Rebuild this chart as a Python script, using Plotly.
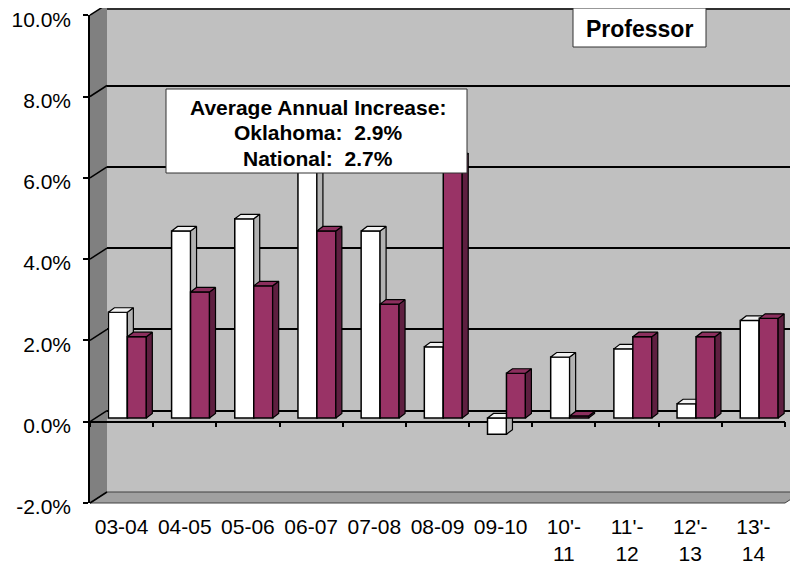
import plotly.graph_objects as go

# ---------------- data ----------------
categories = ["03-04", "04-05", "05-06", "06-07", "07-08", "08-09", "09-10",
              "10'-<br>11", "11'-<br>12", "12'-<br>13", "13'-<br>14"]
oklahoma = [2.6, 4.6, 4.9, 7.8, 4.6, 1.75, -0.4, 1.5, 1.7, 0.35, 2.4]
national = [2.0, 3.1, 3.25, 4.6, 2.8, 6.4, 1.1, 0.05, 2.0, 2.0, 2.45]
y_tick_vals = [-2, 0, 2, 4, 6, 8, 10]
y_tick_text = ["-2.0%", "0.0%", "2.0%", "4.0%", "6.0%", "8.0%", "10.0%"]
grid_vals = [0, 2, 4, 6, 8, 10]
title_text = "Professor"
note_lines = ["Average Annual Increase:", "Oklahoma:  2.9%", "National:  2.7%"]

# ---------------- geometry (page pixels) ----------------
PAGE_W, PAGE_H = 798, 566
OFF = 8                          # default body margin of the html page
W, H = PAGE_W - OFF, PAGE_H - OFF
FX0, FX1 = 90.0, 785.0          # front plane x extent
FY_TOP, FY_BOT = 15.2, 503.0    # front plane y for 10% and -2%
DX, DY = 17.0, 11.0             # depth offset of back wall
BAR_DEPTH = 0.34                # bar plane position in depth
YMIN, YMAX = -2, 10
N = len(categories)
PPU = (FY_BOT - FY_TOP) / (YMAX - YMIN)   # px per percent


def px(x):
    return (x - OFF) / W


def py(y):
    return 1 - (y - OFF) / H


def front_y(v):
    return FY_BOT - (v - YMIN) * PPU


unit_x = N / (FX1 - FX0)                     # category units per px
unit_y = 1.0 / PPU                           # % per px
side_dx = 6.0 * unit_x
top_dy = 4.5 * unit_y
bar_w = 0.30

FONT = "Liberation Sans, Arial, sans-serif"
PURPLE = "#993366"
PURPLE_SIDE = "#5e1f40"
PURPLE_TOP = "#8c2f5e"
WHITE_SIDE = "#b2b2b2"
WHITE_TOP = "#f2f2f2"


def faces(values, left):
    tx, ty, sx, sy = [], [], [], []
    for i, v in enumerate(values):
        x0 = i + left
        x1 = x0 + bar_w
        hi, lo = max(v, 0), min(v, 0)
        tx += [x0, x0 + side_dx, x1 + side_dx, x1, x0, None]
        ty += [hi, hi + top_dy, hi + top_dy, hi, hi, None]
        sx += [x1, x1 + side_dx, x1 + side_dx, x1, x1, None]
        sy += [lo, lo + top_dy, hi + top_dy, hi, lo, None]
    return tx, ty, sx, sy


fig = go.Figure()
xs = list(range(N))

# empty helper traces so every axis pair is laid out
for xa, ya in [("x", "y"), ("x2", "y2"), ("x5", "y2")]:
    fig.add_trace(go.Scatter(x=[], y=[], xaxis=xa, yaxis=ya, mode="markers",
                             hoverinfo="skip", showlegend=False))

# Oklahoma (white) in bar plane x3/y3
tx, ty, sx, sy = faces(oklahoma, -bar_w)
fig.add_trace(go.Bar(x=xs, y=oklahoma, width=bar_w, offset=-bar_w,
                     marker=dict(color="white", line=dict(color="black", width=1.5)),
                     xaxis="x3", yaxis="y3", hoverinfo="skip", name="Oklahoma"))
fig.add_trace(go.Scatter(x=sx, y=sy, fill="toself", fillcolor=WHITE_SIDE, mode="lines",
                         line=dict(color="black", width=1.2), xaxis="x3", yaxis="y3",
                         hoverinfo="skip"))
fig.add_trace(go.Scatter(x=tx, y=ty, fill="toself", fillcolor=WHITE_TOP, mode="lines",
                         line=dict(color="black", width=1.2), xaxis="x3", yaxis="y3",
                         hoverinfo="skip"))

# National (purple) in overlay x4/y4
tx, ty, sx, sy = faces(national, 0.0)
fig.add_trace(go.Bar(x=xs, y=national, width=bar_w, offset=0.0,
                     marker=dict(color=PURPLE, line=dict(color="black", width=1.5)),
                     xaxis="x4", yaxis="y4", hoverinfo="skip", name="National"))
fig.add_trace(go.Scatter(x=sx, y=sy, fill="toself", fillcolor=PURPLE_SIDE, mode="lines",
                         line=dict(color="black", width=1.2), xaxis="x4", yaxis="y4",
                         hoverinfo="skip"))
fig.add_trace(go.Scatter(x=tx, y=ty, fill="toself", fillcolor=PURPLE_TOP, mode="lines",
                         line=dict(color="black", width=1.2), xaxis="x4", yaxis="y4",
                         hoverinfo="skip"))

hidden = dict(visible=False, automargin=False)
bx0, bx1 = FX0 + BAR_DEPTH * DX, FX1 + BAR_DEPTH * DX
by_top, by_bot = FY_TOP - BAR_DEPTH * DY, FY_BOT - BAR_DEPTH * DY

# back wall: page top is the clip limit
back_bot = FY_BOT - DY
back_top = max(FY_TOP - DY, OFF)
back_ymax = YMIN + (back_bot - back_top) / PPU

fig.update_layout(
    width=W, height=H,
    margin=dict(l=0, r=0, t=0, b=0, pad=0, autoexpand=False),
    paper_bgcolor="white", plot_bgcolor="rgba(0,0,0,0)",
    showlegend=False, barmode="overlay",
    font=dict(family=FONT, size=21, color="black"),
    # back wall
    xaxis=dict(domain=[px(FX0 + DX), 1.0], range=[0, 1], showgrid=False, automargin=False,
               zeroline=False, showticklabels=False, ticks="", showline=False),
    yaxis=dict(domain=[py(back_bot), py(back_top)], range=[YMIN, back_ymax],
               tickmode="array", tickvals=grid_vals, showgrid=True, gridcolor="black",
               gridwidth=1.5, zeroline=False, showticklabels=False, ticks="",
               showline=False, automargin=False),
    # front plane (axes)
    xaxis2=dict(domain=[px(FX0), px(FX1)], range=[-0.5, N - 0.5], anchor="y2",
                tickmode="array", tickvals=xs, ticktext=categories, ticks="",
                showline=False, showgrid=False, zeroline=False, automargin=False,
                tickfont=dict(size=21), ticklabelstandoff=9,
                ticklabeloverflow="allow"),
    yaxis2=dict(domain=[py(FY_BOT), py(FY_TOP)], range=[YMIN, YMAX], anchor="x2",
                tickmode="array", tickvals=y_tick_vals, ticktext=y_tick_text,
                ticks="outside", ticklen=5, tickcolor="black", tickwidth=1.5,
                showline=True, linecolor="black", linewidth=1.5, automargin=False,
                showgrid=False, zeroline=False, tickfont=dict(size=21),
                ticklabelstandoff=8, ticklabelshift=4, ticklabeloverflow="allow"),
    xaxis5=dict(overlaying="x2", anchor="free", position=py(front_y(0)),
                range=[-0.5, N - 0.5], tickmode="array",
                tickvals=[i - 0.5 for i in range(N + 1)], ticks="outside",
                ticklen=5, tickcolor="black", tickwidth=1.5, showticklabels=False,
                showline=True, linecolor="black", linewidth=1.5, showgrid=False,
                zeroline=False, side="bottom", automargin=False),
    # bar plane
    xaxis3=dict(domain=[px(bx0), px(bx1)], range=[-0.5, N - 0.5], anchor="y3", **hidden),
    yaxis3=dict(domain=[py(by_bot), py(by_top)], range=[YMIN, YMAX], anchor="x3", **hidden),
    xaxis4=dict(overlaying="x3", range=[-0.5, N - 0.5], anchor="y4", **hidden),
    yaxis4=dict(overlaying="y3", range=[YMIN, YMAX], anchor="x4", **hidden),
)

shapes = []
# back wall
shapes.append(dict(type="rect", xref="paper", yref="paper",
                   x0=px(FX0 + DX), x1=1.0, y0=py(back_bot), y1=py(FY_TOP - DY),
                   fillcolor="#c0c0c0", line=dict(width=0), layer="below"))
# top edge of back wall
shapes.append(dict(type="line", xref="paper", yref="paper", layer="below",
                   x0=px(FX0 + DX), x1=1.0, y0=py(back_top + 1), y1=py(back_top + 1),
                   line=dict(color="black", width=1.5)))
# left wall
shapes.append(dict(type="path", xref="paper", yref="paper", layer="below",
                   path=f"M {px(FX0)} {py(FY_TOP)} L {px(FX0 + DX)} {py(FY_TOP - DY)} "
                        f"L {px(FX0 + DX)} {py(FY_BOT - DY)} L {px(FX0)} {py(FY_BOT)} Z",
                   fillcolor="#808080", line=dict(width=0)))
# floor
shapes.append(dict(type="path", xref="paper", yref="paper", layer="below",
                   path=f"M {px(FX0)} {py(FY_BOT)} L {px(FX0 + DX)} {py(FY_BOT - DY)} "
                        f"L {px(FX1 + DX)} {py(FY_BOT - DY)} L {px(FX1)} {py(FY_BOT)} Z",
                   fillcolor="#a0a0a0", line=dict(color="#404040", width=1)))
# left wall grid connectors
for v in y_tick_vals:
    shapes.append(dict(type="line", xref="paper", yref="paper", layer="below",
                       x0=px(FX0), y0=py(front_y(v)), x1=px(FX0 + DX), y1=py(front_y(v) - DY),
                       line=dict(color="black", width=1.5)))
# text boxes
shapes.append(dict(type="rect", xref="paper", yref="paper", layer="above",
                   x0=px(166), x1=px(467), y0=py(173), y1=py(89),
                   fillcolor="white", line=dict(color="#333333", width=1)))
shapes.append(dict(type="rect", xref="paper", yref="paper", layer="above",
                   x0=px(573), x1=px(706), y0=py(47), y1=py(8),
                   fillcolor="white", line=dict(color="#333333", width=1)))
fig.update_layout(shapes=shapes)

annotations = []
for line, yc in zip(note_lines, [107, 133, 158]):
    annotations.append(dict(text=f"<b>{line}</b>", xref="paper", yref="paper",
                            x=px(318), y=py(yc), xanchor="center", yanchor="middle",
                            showarrow=False, font=dict(size=21, family=FONT, color="black")))
annotations.append(dict(text=f"<b>{title_text}</b>", xref="paper", yref="paper",
                        x=px(639.5), y=py(28.5), xanchor="center", yanchor="middle",
                        showarrow=False, font=dict(size=23, family=FONT, color="black")))
fig.update_layout(annotations=annotations)

fig.write_html("out.html")
